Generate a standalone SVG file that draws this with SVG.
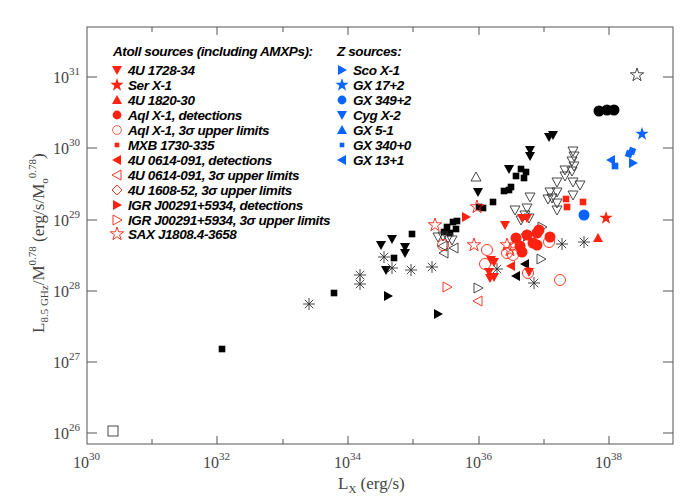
<svg xmlns="http://www.w3.org/2000/svg" xmlns:xlink="http://www.w3.org/1999/xlink" width="700" height="500" viewBox="0 0 700 500">
<style>
.leg{font-family:"Liberation Sans",Arial,sans-serif;font-size:13.5px;font-weight:bold;font-style:italic;fill:#000;letter-spacing:-0.4px}
.tk{font-family:"Liberation Serif",serif;font-size:16px;fill:#444}
.yl{font-family:"Liberation Serif",serif;font-size:17px;fill:#444}
.sup{font-size:11px}
.ax{stroke:#555;stroke-width:1;fill:none}
.k{fill:#000}.r{fill:#f21}.b{fill:#0a64ff}
.ko{fill:none;stroke:#333;stroke-width:0.9}.ro{fill:none;stroke:#f21;stroke-width:0.9}
</style>
<defs>
<path id="td" d="M-5,-4 L5,-4 L0,5 Z"/>
<path id="tu" d="M-5,4 L5,4 L0,-5 Z"/>
<path id="tl" d="M4,-5 L4,5 L-5,0 Z"/>
<path id="tr" d="M-4,-5 L-4,5 L5,0 Z"/>
<rect id="sq" x="-3.3" y="-3.3" width="6.6" height="6.6"/>
<circle id="ci" r="5.5"/>
<path id="dm" d="M0,-5 L5,0 L0,5 L-5,0 Z"/>
<path id="st" d="M0,-7 L1.6,-2.2 L6.7,-2.2 L2.6,0.8 L4.1,5.7 L0,2.7 L-4.1,5.7 L-2.6,0.8 L-6.7,-2.2 L-1.6,-2.2 Z"/>
<path id="as" d="M-6,0 H6 M0,-6 V6 M-4.2,-4.2 L4.2,4.2 M-4.2,4.2 L4.2,-4.2" stroke="#333" stroke-width="0.9" fill="none"/>
</defs>
<g id="axes">
<rect class="ax" x="87" y="27" width="586" height="417"/>
<path class="ax" d="M87,77 h10 M87,148 h10 M87,220 h10 M87,291 h10 M87,362 h10 M87,433 h10 M673,77 h-10 M673,148 h-10 M673,220 h-10 M673,291 h-10 M673,362 h-10 M673,433 h-10 M152,444 v-5 M217,444 v-8 M283,444 v-5 M348,444 v-8 M413,444 v-5 M479,444 v-8 M544,444 v-5 M609,444 v-8 M152,27 v5 M217,27 v8 M283,27 v5 M348,27 v8 M413,27 v5 M479,27 v8 M544,27 v5 M609,27 v8"/>
<text class="tk" x="53" y="83">10<tspan class="sup" dy="-8">31</tspan></text>
<text class="tk" x="53" y="154">10<tspan class="sup" dy="-8">30</tspan></text>
<text class="tk" x="53" y="226">10<tspan class="sup" dy="-8">29</tspan></text>
<text class="tk" x="53" y="297">10<tspan class="sup" dy="-8">28</tspan></text>
<text class="tk" x="53" y="368">10<tspan class="sup" dy="-8">27</tspan></text>
<text class="tk" x="53" y="439">10<tspan class="sup" dy="-8">26</tspan></text>
<text class="tk" x="73" y="468">10<tspan class="sup" dy="-8">30</tspan></text>
<text class="tk" x="203" y="468">10<tspan class="sup" dy="-8">32</tspan></text>
<text class="tk" x="334" y="468">10<tspan class="sup" dy="-8">34</tspan></text>
<text class="tk" x="465" y="468">10<tspan class="sup" dy="-8">36</tspan></text>
<text class="tk" x="595" y="468">10<tspan class="sup" dy="-8">38</tspan></text>
<text class="yl" x="338" y="489">L<tspan class="sup" dy="4">X</tspan><tspan dy="-4"> (erg/s)</tspan></text>
<text class="yl" transform="translate(44,333) rotate(-90)">L<tspan class="sup" dy="4">8.5 GHz</tspan><tspan dy="-4">/M</tspan><tspan class="sup" dy="-8">0.78</tspan><tspan dy="8"> (erg/s/M</tspan><tspan class="sup" dy="4">o</tspan><tspan class="sup" dy="-12">0.78</tspan><tspan dy="8">)</tspan></text>
</g>
<g id="legend">
<text class="leg" x="113" y="56">Atoll sources (including AMXPs):</text>
<use href="#td" class="r" x="117" y="70"/><text class="leg" x="128" y="75">4U 1728-34</text>
<use href="#st" class="r" x="117" y="85"/><text class="leg" x="128" y="90">Ser X-1</text>
<use href="#tu" class="r" x="117" y="100"/><text class="leg" x="128" y="105">4U 1820-30</text>
<use href="#ci" class="r" x="117" y="115" transform="translate(117,115) scale(0.8) translate(-117,-115)"/><text class="leg" x="128" y="120">Aql X-1, detections</text>
<use href="#ci" class="ro" x="117" y="130" transform="translate(117,130) scale(0.8) translate(-117,-130)"/><text class="leg" x="128" y="135">Aql X-1, 3σ upper limits</text>
<use href="#sq" class="r" x="117" y="145" transform="translate(117,145) scale(0.7) translate(-117,-145)"/><text class="leg" x="128" y="150">MXB 1730-335</text>
<use href="#tl" class="r" x="117" y="160"/><text class="leg" x="128" y="165">4U 0614-091, detections</text>
<use href="#tl" class="ro" x="117" y="175"/><text class="leg" x="128" y="180">4U 0614-091, 3σ upper limits</text>
<use href="#dm" class="ro" x="117" y="190"/><text class="leg" x="128" y="195">4U 1608-52, 3σ upper limits</text>
<use href="#tr" class="r" x="117" y="205"/><text class="leg" x="128" y="210">IGR J00291+5934, detections</text>
<use href="#tr" class="ro" x="117" y="220"/><text class="leg" x="128" y="225">IGR J00291+5934, 3σ upper limits</text>
<use href="#st" class="ro" x="117" y="234"/><text class="leg" x="128" y="239">SAX J1808.4-3658</text>
<text class="leg" x="337" y="56">Z sources:</text>
<use href="#tr" class="b" x="342" y="70"/><text class="leg" x="353" y="75">Sco X-1</text>
<use href="#st" class="b" x="342" y="85"/><text class="leg" x="353" y="90">GX 17+2</text>
<use href="#ci" class="b" x="342" y="100" transform="translate(342,100) scale(0.8) translate(-342,-100)"/><text class="leg" x="353" y="105">GX 349+2</text>
<use href="#td" class="b" x="342" y="115"/><text class="leg" x="353" y="120">Cyg X-2</text>
<use href="#tu" class="b" x="342" y="130"/><text class="leg" x="353" y="135">GX 5-1</text>
<use href="#sq" class="b" x="342" y="145" transform="translate(342,145) scale(0.7) translate(-342,-145)"/><text class="leg" x="353" y="150">GX 340+0</text>
<use href="#tl" class="b" x="342" y="160"/><text class="leg" x="353" y="165">GX 13+1</text>
</g>
<g id="data">
<rect x="108" y="426" width="10" height="10" class="ko"/>
<use href="#sq" class="k" x="222" y="349"/>
<use href="#sq" class="k" x="334" y="293"/>
<use href="#sq" class="k" x="394" y="258"/>
<use href="#sq" class="k" x="412" y="234"/>
<use href="#sq" class="k" x="479" y="207"/>
<use href="#sq" class="k" x="483" y="208"/>
<use href="#sq" class="k" x="493" y="202"/>
<use href="#sq" class="k" x="504" y="191"/>
<use href="#sq" class="k" x="509" y="190"/>
<use href="#sq" class="k" x="511" y="187"/>
<use href="#sq" class="k" x="516" y="176"/>
<use href="#sq" class="k" x="521" y="169"/>
<use href="#sq" class="k" x="526" y="172"/>
<use href="#sq" class="k" x="524" y="178"/>
<use href="#sq" class="k" x="453" y="222"/>
<use href="#sq" class="k" x="457" y="221"/>
<use href="#sq" class="k" x="456" y="229"/>
<use href="#sq" class="k" x="447" y="227"/>
<use href="#sq" class="k" x="444" y="232"/>
<use href="#sq" class="k" x="450" y="233"/>
<use href="#ci" class="k" x="599" y="111"/>
<use href="#ci" class="k" x="607" y="110"/>
<use href="#ci" class="k" x="614" y="110"/>
<use href="#st" class="ko" x="637" y="75"/>
<use href="#td" class="k" x="381" y="245"/>
<use href="#td" class="k" x="392" y="239"/>
<use href="#td" class="k" x="405" y="247"/>
<use href="#td" class="k" x="405" y="253"/>
<use href="#td" class="k" x="386" y="270"/>
<use href="#td" class="k" x="478" y="192"/>
<use href="#td" class="k" x="509" y="169"/>
<use href="#td" class="k" x="530" y="150"/>
<use href="#td" class="k" x="530" y="156"/>
<use href="#td" class="k" x="549" y="137"/>
<use href="#td" class="k" x="553" y="135"/>
<use href="#tr" class="k" x="388" y="296"/>
<use href="#tr" class="k" x="438" y="314"/>
<use href="#tl" class="k" x="525" y="264"/>
<use href="#tl" class="k" x="516" y="276"/>
<use href="#st" class="k" x="527" y="236"/>
<use href="#tu" class="ko" x="476" y="177"/>
<use href="#td" class="ko" x="530" y="197"/>
<use href="#td" class="ko" x="515" y="210"/>
<use href="#td" class="ko" x="527" y="208"/>
<use href="#td" class="ko" x="525" y="215"/>
<use href="#td" class="ko" x="521" y="220"/>
<use href="#td" class="ko" x="529" y="218"/>
<use href="#td" class="ko" x="573" y="151"/>
<use href="#td" class="ko" x="574" y="156"/>
<use href="#td" class="ko" x="572" y="161"/>
<use href="#td" class="ko" x="574" y="166"/>
<use href="#td" class="ko" x="572" y="171"/>
<use href="#td" class="ko" x="565" y="170"/>
<use href="#td" class="ko" x="565" y="176"/>
<use href="#td" class="ko" x="557" y="182"/>
<use href="#td" class="ko" x="573" y="182"/>
<use href="#td" class="ko" x="580" y="185"/>
<use href="#td" class="ko" x="550" y="192"/>
<use href="#td" class="ko" x="557" y="192"/>
<use href="#td" class="ko" x="552" y="198"/>
<use href="#td" class="ko" x="557" y="203"/>
<use href="#td" class="ko" x="557" y="210"/>
<use href="#td" class="ko" x="573" y="195"/>
<use href="#td" class="ko" x="548" y="199"/>
<use href="#td" class="ko" x="443" y="236"/>
<use href="#td" class="ko" x="448" y="238"/>
<use href="#td" class="ko" x="438" y="237"/>
<use href="#td" class="ko" x="452" y="240"/>
<use href="#tl" class="ko" x="444" y="253"/>
<use href="#tl" class="ko" x="454" y="248"/>
<use href="#tl" class="ko" x="443" y="246"/>
<use href="#tr" class="ko" x="541" y="259"/>
<use href="#tr" class="ko" x="478" y="288"/>
<use href="#tr" class="ko" x="542" y="227"/>
<use href="#as" x="309" y="304"/>
<use href="#as" x="360" y="275"/>
<use href="#as" x="360" y="284"/>
<use href="#as" x="384" y="257"/>
<use href="#as" x="392" y="268"/>
<use href="#as" x="411" y="270"/>
<use href="#as" x="432" y="267"/>
<use href="#as" x="497" y="269"/>
<use href="#as" x="534" y="283"/>
<use href="#as" x="562" y="244"/>
<use href="#as" x="584" y="242"/>
<use href="#td" class="r" x="505" y="225"/>
<use href="#td" class="r" x="522" y="218"/>
<use href="#td" class="r" x="527" y="218"/>
<use href="#td" class="r" x="491" y="260"/>
<use href="#td" class="r" x="494" y="262"/>
<use href="#td" class="r" x="489" y="272"/>
<use href="#td" class="r" x="494" y="277"/>
<use href="#td" class="r" x="490" y="278"/>
<use href="#td" class="r" x="529" y="272"/>
<use href="#st" class="r" x="606" y="218"/>
<use href="#tu" class="r" x="598" y="238"/>
<use href="#ci" class="r" x="516" y="238"/>
<use href="#ci" class="r" x="520" y="246"/>
<use href="#ci" class="r" x="522" y="252"/>
<use href="#ci" class="r" x="527" y="235"/>
<use href="#ci" class="r" x="537" y="233"/>
<use href="#ci" class="r" x="533" y="243"/>
<use href="#ci" class="r" x="537" y="245"/>
<use href="#ci" class="r" x="550" y="237"/>
<use href="#ci" class="r" x="539" y="230"/>
<use href="#sq" class="r" x="566" y="199"/>
<use href="#sq" class="r" x="567" y="207"/>
<use href="#sq" class="r" x="583" y="202"/>
<use href="#ci" class="ro" x="443" y="245"/>
<use href="#ci" class="ro" x="487" y="250"/>
<use href="#ci" class="ro" x="485" y="264"/>
<use href="#ci" class="ro" x="507" y="253"/>
<use href="#ci" class="ro" x="513" y="255"/>
<use href="#ci" class="ro" x="549" y="242"/>
<use href="#ci" class="ro" x="560" y="280"/>
<use href="#ci" class="ro" x="528" y="273"/>
<use href="#tl" class="r" x="511" y="266"/>
<use href="#tr" class="r" x="466" y="217"/>
<use href="#tl" class="ro" x="478" y="301"/>
<use href="#tr" class="ro" x="447" y="287"/>
<use href="#st" class="ro" x="435" y="225"/>
<use href="#st" class="ro" x="477" y="207"/>
<use href="#st" class="ro" x="474" y="245"/>
<use href="#st" class="ro" x="507" y="245"/>
<use href="#st" class="ro" x="510" y="250"/>
<use href="#ci" class="b" x="584" y="215"/>
<use href="#st" class="b" x="642" y="134"/>
<use href="#sq" class="b" x="629" y="154" transform="rotate(20 629 154)"/>
<use href="#sq" class="b" x="632" y="151" transform="rotate(20 632 151)"/>
<use href="#tl" class="b" x="611" y="160"/>
<use href="#sq" class="b" x="615" y="166"/>
<use href="#tr" class="b" x="633" y="163"/>
</g>
</svg>
